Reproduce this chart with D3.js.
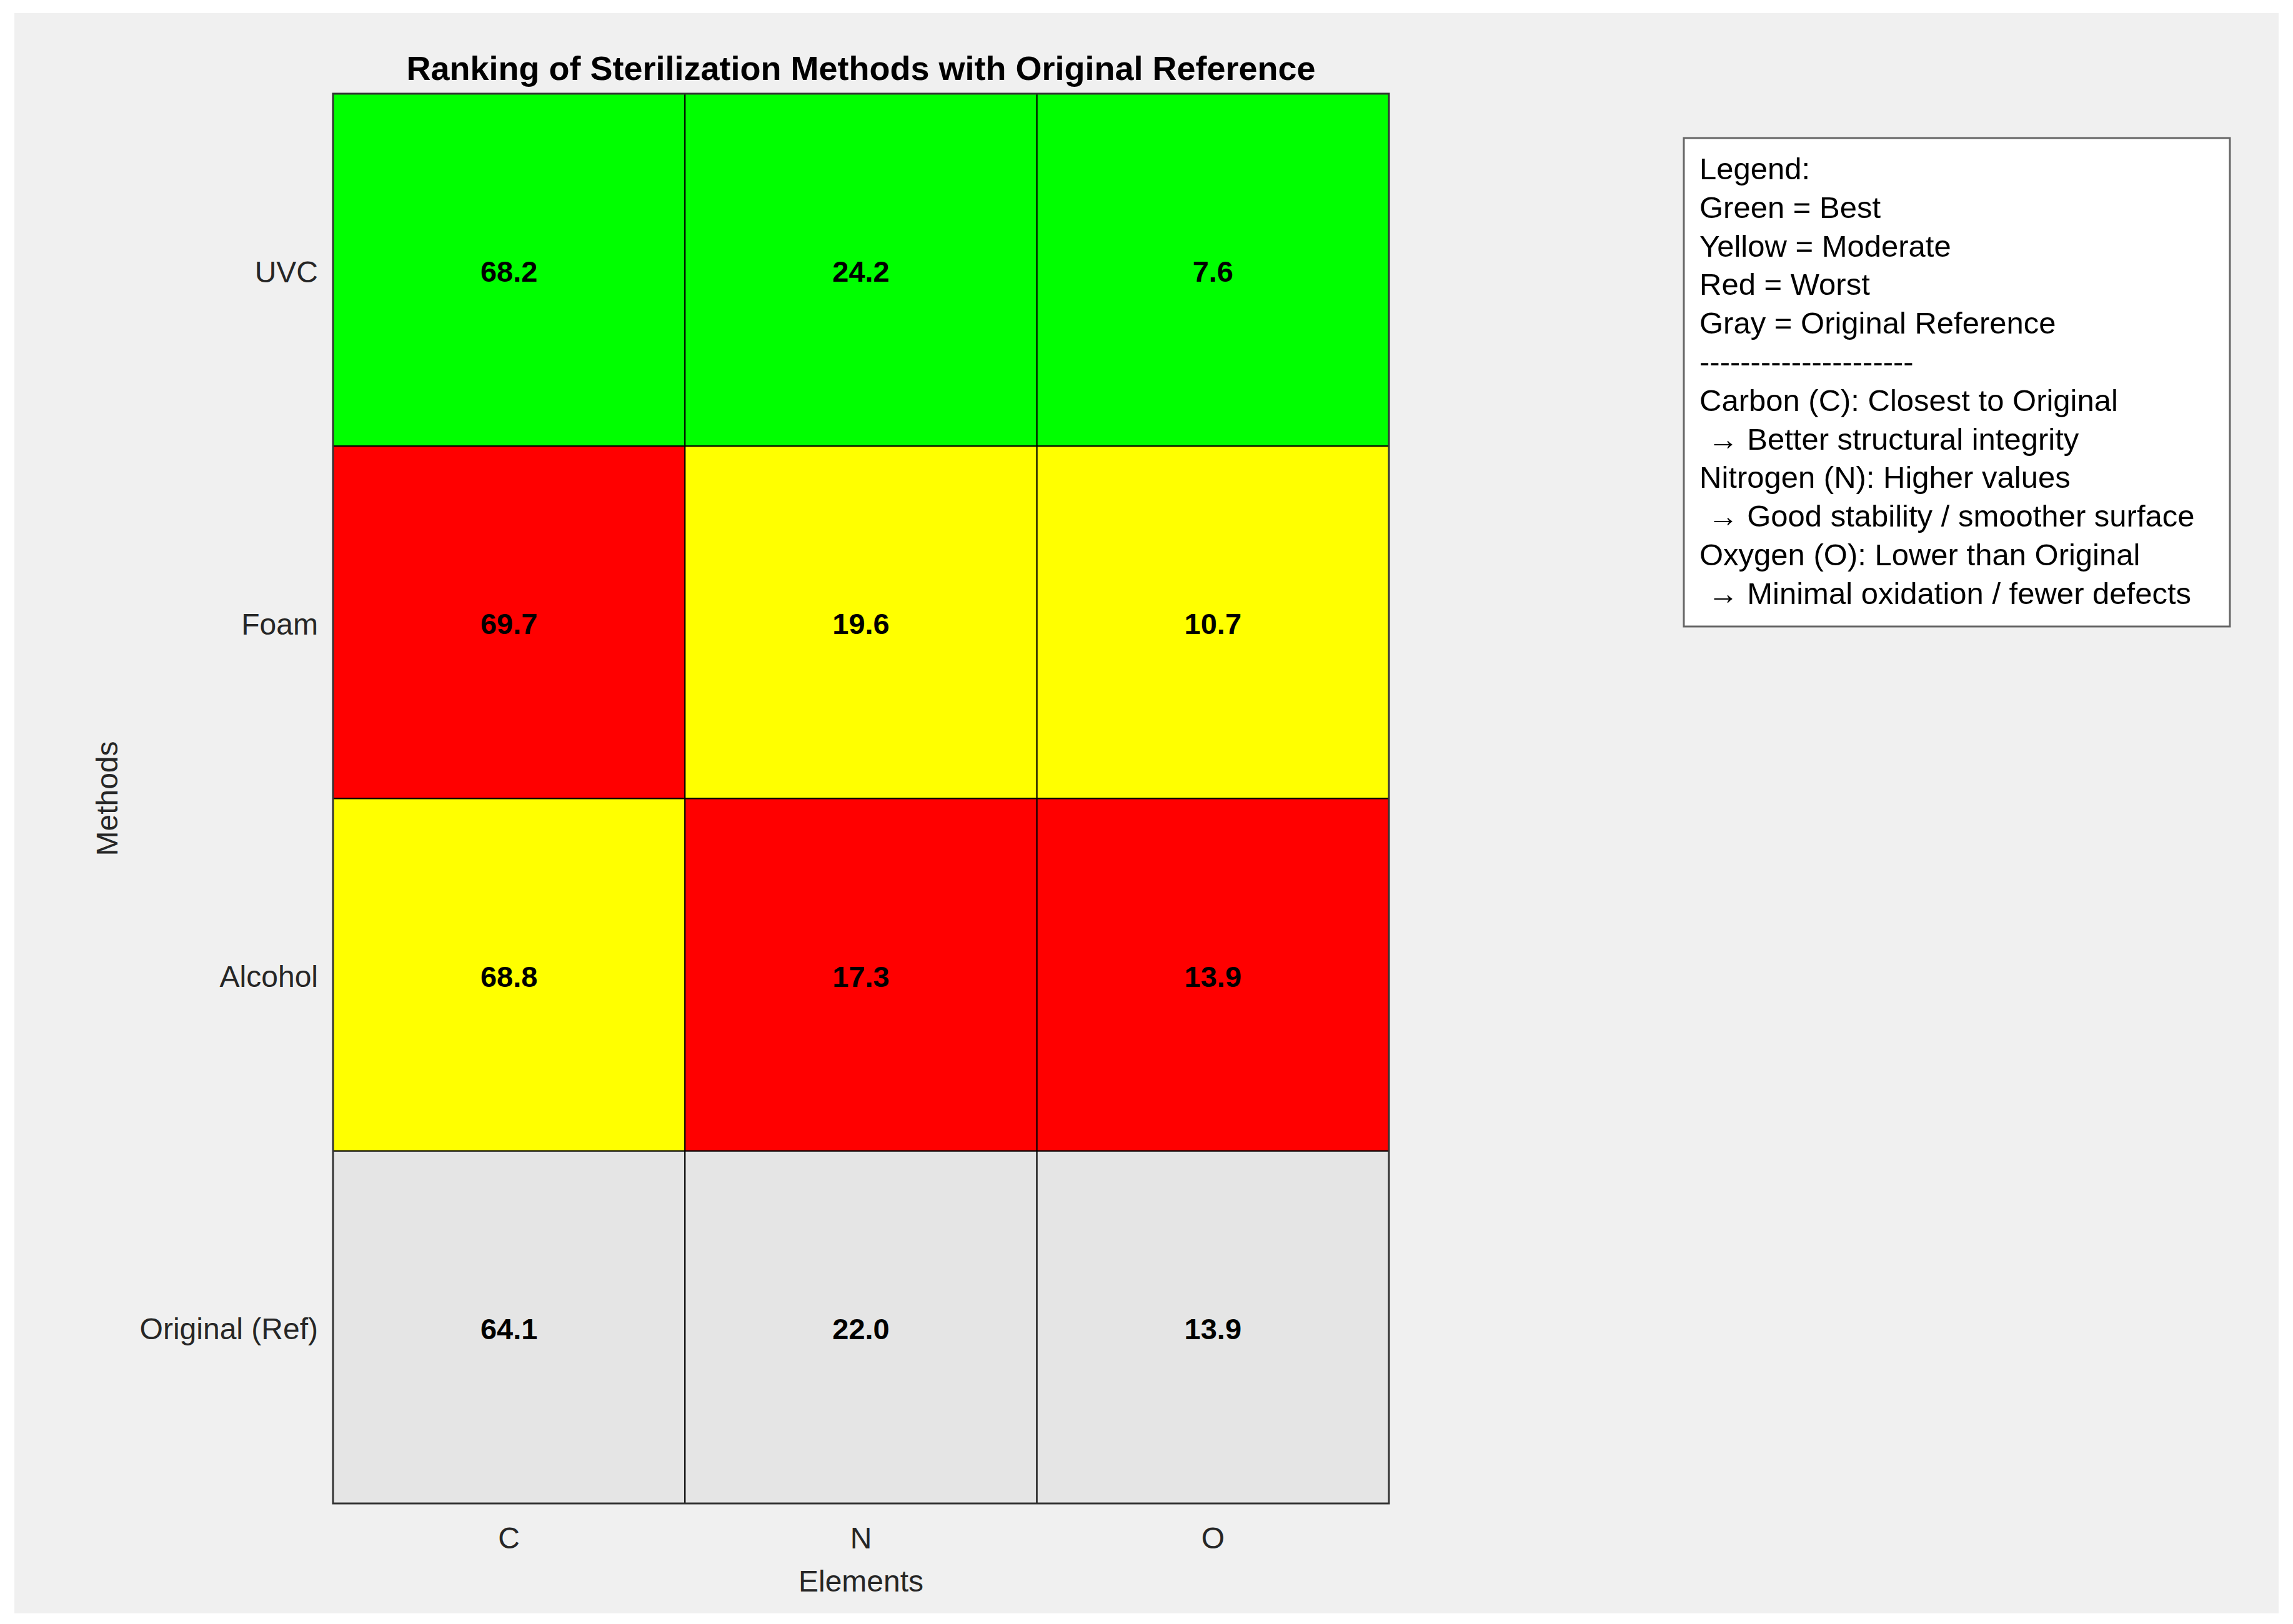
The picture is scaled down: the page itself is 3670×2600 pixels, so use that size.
<!DOCTYPE html>
<html>
<head>
<meta charset="utf-8">
<script src="https://cdn.jsdelivr.net/npm/d3@7"></script>
<style>
  body { margin: 0; background: #ffffff; }
  svg { display: block; font-family: "Liberation Sans", Arial, sans-serif; }
</style>
</head>
<body>
<div id="chart"></div>
<script>
// chart data
var methods = ["UVC", "Foam", "Alcohol", "Original (Ref)"];
var elements = ["C", "N", "O"];
var uvcValues = [68.2, 24.2, 7.6];
var foamValues = [69.7, 19.6, 10.7];
var alcoholValues = [68.8, 17.3, 13.9];
var originalValues = [64.1, 22.0, 13.9];
// 0 = reference, 1 = best, 2 = moderate, 3 = worst
var uvcRanks = [1, 1, 1];
var foamRanks = [3, 2, 2];
var alcoholRanks = [2, 3, 3];
var originalRanks = [0, 0, 0];
var legendLines = [
  "Legend:",
  "Green = Best",
  "Yellow = Moderate",
  "Red = Worst",
  "Gray = Original Reference",
  "---------------------",
  "Carbon (C): Closest to Original",
  " \u2192 Better structural integrity",
  "Nitrogen (N): Higher values",
  " \u2192 Good stability / smoother surface",
  "Oxygen (O): Lower than Original",
  " \u2192 Minimal oxidation / fewer defects"
];

var W = 3670, H = 2600;
var plot = { left: 533, right: 2223, top: 150, bottom: 2407 };

var svg = d3.select('#chart')
            .append('svg')
            .attr('width', W)
            .attr('height', H);

// figure background
svg.append('rect')
   .attr('x', 23).attr('y', 21)
   .attr('width', 3624).attr('height', 2562)
   .attr('fill', '#f0f0f0');

var valueRows = [uvcValues, foamValues, alcoholValues, originalValues];
var rankRows = [uvcRanks, foamRanks, alcoholRanks, originalRanks];

var cells = [];
methods.forEach(function(m, i) {
  elements.forEach(function(e, j) {
    cells.push({ method: m, element: e, value: valueRows[i][j], rank: rankRows[i][j] });
  });
});

var x = d3.scaleBand().domain(elements).range([plot.left, plot.right]);
var y = d3.scaleBand().domain(methods).range([plot.top, plot.bottom]);
var color = d3.scaleOrdinal()
              .domain([0, 1, 2, 3])
              .range(['#e5e5e5', '#00ff00', '#ffff00', '#ff0000']);

// cells
svg.selectAll('rect.cell')
    .data(cells)
  .enter()
  .append('rect')
    .attr('class', 'cell')
    .attr('x', function(d) { return x(d.element); })
    .attr('y', function(d) { return y(d.method); })
    .attr('width', x.bandwidth())
    .attr('height', y.bandwidth())
    .attr('fill', function(d) { return color(d.rank); })
    .attr('stroke', '#000')
    .attr('stroke-width', 2);

// axes box
svg.append('rect')
   .attr('x', plot.left).attr('y', plot.top)
   .attr('width', plot.right - plot.left)
   .attr('height', plot.bottom - plot.top)
   .attr('fill', 'none')
   .attr('stroke', '#333')
   .attr('stroke-width', 3);

// values
svg.selectAll('text.val')
    .data(cells)
  .enter()
  .append('text')
    .attr('class', 'val')
    .attr('x', function(d) { return x(d.element) + x.bandwidth() / 2; })
    .attr('y', function(d) { return y(d.method) + y.bandwidth() / 2 + 19; })
    .attr('text-anchor', 'middle')
    .attr('font-size', 47)
    .attr('font-weight', 'bold')
    .attr('fill', '#000')
    .text(function(d) { return d.value.toFixed(1); });

// axes
var yAxis = svg.append('g')
    .attr('transform', 'translate(' + plot.left + ',4)')
    .call(d3.axisLeft(y).tickSize(0).tickPadding(24));
var xAxis = svg.append('g')
    .attr('transform', 'translate(0,' + plot.bottom + ')')
    .call(d3.axisBottom(x).tickSize(0).tickPadding(38));
[xAxis, yAxis].forEach(function(a) {
  a.select('.domain').remove();
  a.selectAll('text')
   .attr('font-size', 48)
   .attr('font-family', '"Liberation Sans", Arial, sans-serif')
   .attr('fill', '#262626');
});

// title & labels
svg.append('text')
   .attr('x', (plot.left + plot.right) / 2).attr('y', 128)
   .attr('text-anchor', 'middle')
   .attr('font-size', 54).attr('font-weight', 'bold')
   .attr('fill', '#000')
   .text('Ranking of Sterilization Methods with Original Reference');

svg.append('text')
   .attr('x', (plot.left + plot.right) / 2).attr('y', 2548)
   .attr('text-anchor', 'middle')
   .attr('font-size', 48).attr('fill', '#262626')
   .text('Elements');

svg.append('text')
   .attr('transform', 'translate(188,' + (plot.top + plot.bottom) / 2 + ') rotate(-90)')
   .attr('text-anchor', 'middle')
   .attr('font-size', 48).attr('fill', '#262626')
   .text('Methods');

// legend box
var legend = svg.append('g');
legend.append('rect')
   .attr('x', 2695).attr('y', 221)
   .attr('width', 874).attr('height', 782)
   .attr('fill', '#fff')
   .attr('stroke', '#666')
   .attr('stroke-width', 3);
legend.selectAll('text')
    .data(legendLines)
  .enter()
  .append('text')
    .attr('x', 2720)
    .attr('y', function(d, i) { return 287 + i * 61.8; })
    .attr('font-size', 49)
    .attr('fill', '#000')
    .attr('xml:space', 'preserve')
    .style('white-space', 'pre')
    .text(function(d) { return d; });
</script>
</body>
</html>
